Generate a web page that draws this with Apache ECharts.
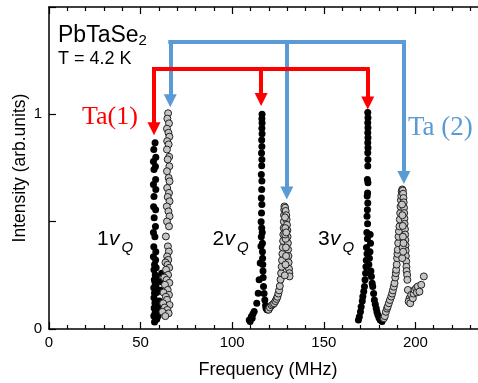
<!DOCTYPE html>
<html><head><meta charset="utf-8">
<script src="https://cdn.jsdelivr.net/npm/echarts@6/dist/echarts.min.js"></script>
<style>html,body{margin:0;padding:0;background:#fff}#c{width:478px;height:383px}</style>
</head><body><div id="c"></div>
<script>
// ---- data: [frequency (MHz), intensity (arb. units)] ----
const ta1Peak1 = [[57.9,.868],[57.2,.836],[58.3,.80],[57.0,.78],[58.1,.757],[57.3,.743],[58.2,.696],[57.0,.673],[58.3,.65],[57.3,.617],[57.1,.57],[58.2,.556],[57.4,.518],[58.1,.477],[57.0,.449],[57.8,.43],[57.2,.383],[58.3,.36],[57.0,.336],[58.2,.322],[57.6,.299],[58.5,.285],[57.3,.276],[58.0,.252],[57.5,.229],[58.6,.24],[57.9,.215],[57.2,.192],[58.4,.20],[57.6,.168],[58.8,.17],[57.3,.145],[58.2,.13],[57.8,.121],[59.0,.11],[57.4,.098],[58.5,.085],[57.9,.075],[57.2,.06],[58.3,.051],[57.6,.033],[58.8,.045],[59.5,.06],[59.8,.09],[60.2,.13],[60.5,.11],[60.8,.18],[61.3,.22],[61.5,.26]];
const ta1Peak2 = [[109.3,.042],[109.8,.035],[110.5,.058],[110.9,.05],[111.3,.07],[112.0,.081],[113.4,.12],[114.2,.167],[114.7,.229],[115.3,.307],[115.7,.385],[115.9,.43],[116.1,.47],[115.8,.50],[116.0,.54],[116.2,.58],[115.9,.61],[116.1,.65],[116.2,.69],[115.9,.72],[116.1,.76],[116.2,.79],[116.0,.82],[116.2,.85],[116.1,.88],[116.3,.91],[116.2,.935],[116.3,.96],[116.2,.98],[116.3,1.0],[116.4,.45],[116.5,.40],[116.5,.36],[116.6,.33],[116.7,.30],[116.8,.27],[116.9,.24],[117.1,.198],[117.4,.165],[117.8,.135],[118.2,.11],[118.5,.097],[119.0,.09],[119.6,.089]];
const ta1Peak3 = [[168.9,.042],[169.4,.057],[170.0,.08],[170.4,.104],[171.0,.13],[171.3,.151],[171.8,.175],[172.2,.198],[172.5,.23],[172.8,.26],[173.0,.29],[173.2,.32],[173.6,.35],[173.3,.38],[173.8,.42],[173.5,.45],[173.9,.49],[173.6,.525],[173.8,.556],[174.0,.587],[173.7,.619],[173.9,.634],[174.1,.681],[173.8,.696],[174.0,.759],[174.1,.79],[174.0,.821],[174.1,.844],[174.0,.868],[174.1,.891],[174.0,.914],[174.1,.938],[174.0,.961],[174.1,.984],[174.0,1.008],[174.6,.30],[174.9,.33],[175.2,.36],[175.5,.40],[175.3,.44],[175.7,.27],[176.0,.245],[176.4,.213],[176.7,.198],[177.2,.165],[177.6,.135],[178.1,.115],[178.6,.097],[179.0,.08],[179.5,.066],[180.1,.052],[180.8,.042],[181.8,.035]];
const ta2Peak1 = [[65.0,1.005],[64.6,.98],[65.5,.958],[64.4,.933],[65.2,.914],[65.7,.896],[64.5,.875],[65.3,.86],[64.4,.836],[65.6,.802],[64.8,.79],[65.7,.758],[64.4,.735],[65.3,.704],[65.8,.688],[64.5,.657],[65.5,.634],[64.8,.615],[65.8,.595],[64.3,.571],[65.2,.548],[65.8,.525],[64.4,.501],[65.5,.478],[63.8,.431],[64.9,.385],[65.4,.361],[64.5,.338],[65.1,.322],[63.6,.31],[64.7,.299],[65.6,.285],[63.9,.276],[65.0,.252],[62.9,.24],[64.2,.229],[65.7,.215],[63.3,.206],[64.8,.182],[62.5,.17],[65.5,.159],[63.8,.15],[64.4,.136],[62.3,.12],[65.8,.112],[63.1,.1],[64.6,.089],[65.3,.073],[61.9,.08],[63.5,.06]];
const ta2Peak2 = [[119.9,.09],[120.6,.1],[121.5,.11],[122.3,.115],[122.9,.12],[123.6,.13],[124.2,.14],[124.7,.15],[125.2,.165],[125.6,.18],[126.0,.2],[126.4,.23],[126.7,.26],[127.0,.29],[127.2,.32],[127.4,.35],[127.6,.38],[127.8,.41],[127.9,.44],[128.1,.47],[128.2,.50],[128.3,.53],[128.4,.555],[128.5,.571],[128.9,.565],[129.2,.55],[129.5,.53],[129.7,.51],[129.9,.485],[130.1,.46],[130.2,.43],[130.4,.40],[130.5,.37],[130.7,.34],[130.8,.31],[131.0,.28],[131.2,.26],[131.3,.245],[128.8,.52],[129.0,.47],[129.2,.42],[129.3,.38],[129.4,.34],[129.1,.30],[128.7,.25],[128.9,.44],[129.5,.45]];
const ta2Peak3 = [[182.8,.05],[183.3,.06],[183.9,.08],[184.5,.095],[184.9,.104],[185.5,.12],[186.1,.135],[186.8,.151],[187.3,.165],[187.7,.18],[188.2,.197],[188.6,.213],[189.0,.24],[189.3,.26],[189.5,.276],[189.8,.30],[190.0,.33],[190.2,.35],[190.4,.369],[190.6,.40],[190.8,.43],[191.0,.455],[191.3,.478],[191.5,.51],[191.7,.54],[191.9,.57],[192.1,.60],[192.3,.62],[192.5,.64],[192.8,.65],[193.1,.645],[193.3,.63],[193.5,.61],[193.6,.59],[193.8,.565],[193.9,.54],[194.0,.515],[194.1,.49],[194.3,.465],[194.4,.44],[194.5,.415],[194.6,.39],[194.7,.365],[194.8,.34],[195.0,.315],[195.1,.29],[195.2,.27],[195.5,.252],[195.6,.229],[195.9,.182],[196.8,.143],[196.3,.128],[192.7,.58],[192.9,.53],[193.1,.48],[193.2,.43],[193.0,.38],[192.8,.33],[193.3,.36],[193.5,.40]];
const ta2Tail = [[197.2,.12],[197.7,.159],[198.6,.143],[199.0,.165],[199.5,.182],[200.4,.19],[200.8,.17],[201.3,.198],[202.2,.174],[203.2,.206],[204.6,.245]];

// arrows: frequency of each line, intensity at arrow end, level of the connecting bar
const ta1ArrowFreq = [57.3, 115.8, 174.0];
const ta1ArrowEnd  = [0.933, 1.069, 1.053];
const ta1BarLevel  = 1.212;
const ta2ArrowFreq = [66.2, 129.8, 193.7];
const ta2ArrowEnd  = [1.063, 0.634, 0.706];
const ta2BarLevel  = 1.340;

const xTickLabels = [0, 50, 100, 150, 200];
const yTickLabels = [0, 1];

const RED = '#ff0000', BLUE = '#5b9bd5';
const SANS = '"Liberation Sans", Arial, sans-serif';
const SERIF = '"Liberation Serif", "Times New Roman", serif';

function arrowSeries(freqs, ends, level, color) {
  return [{
    type: 'lines', coordinateSystem: 'cartesian2d', silent: true,
    symbol: 'none',
    lineStyle: {color, width: 4, opacity: 1, cap: 'square'},
    data: [{coords: [[freqs[0], level], [freqs[freqs.length - 1], level]]}]
  }, {
    type: 'lines', coordinateSystem: 'cartesian2d', silent: true,
    symbol: ['none', 'triangle'], symbolSize: [12, 13],
    lineStyle: {color, width: 4, opacity: 1},
    itemStyle: {color},
    data: freqs.map((f, i) => ({coords: [[f, level], [f, ends[i]]]}))
  }];
}

const axisLine = {show: true, onZero: false, lineStyle: {color: '#000', width: 1.5}};
const tickStyle = {color: '#000', width: 1.2};

const chart = echarts.init(document.getElementById('c'), null, {renderer: 'canvas'});

function txt(x, y, text, size, opts) {
  return {type: 'text', x, y, silent: true, style: Object.assign({
    text, fontSize: size, fontFamily: SANS, fill: '#000', verticalAlign: 'top'
  }, opts || {})};
}
const graphics = [
  txt(58, 24, '{a|PbTaSe}{b|2}', 23, {rich: {
    a: {fontSize: 23, fontFamily: SANS, lineHeight: 24},
    b: {fontSize: 15, fontFamily: SANS, lineHeight: 8, verticalAlign: 'bottom'}
  }}),
  txt(58, 50.5, 'T = 4.2 K', 18),
  txt(82, 104, 'Ta(1)', 26, {fontFamily: SERIF, fill: RED}),
  txt(408, 114.5, 'Ta (2)', 27, {fontFamily: SERIF, fill: BLUE})
];
[['1', 97], ['2', 212.5], ['3', 318]].forEach(([n, x0]) => {
  graphics.push(txt(x0, 228.8, n, 21));
  graphics.push(txt(x0 + 12, 228.8, 'v', 21, {fontStyle: 'italic'}));
  graphics.push(txt(x0 + 24.5, 240.5, 'Q', 15, {fontStyle: 'italic'}));
});

chart.setOption({
  animation: false,
  backgroundColor: '#fff',
  grid: {left: 49, right: -29, top: 7, bottom: 54, containLabel: false, outerBoundsMode: 'none'},
  xAxis: [{
    type: 'value', position: 'bottom', min: 0, max: 250, interval: 50,
    axisLine, axisTick: {show: true, inside: true, length: 7, lineStyle: tickStyle},
    minorTick: {show: true, splitNumber: 5, length: 4, lineStyle: tickStyle},
    splitLine: {show: false}, minorSplitLine: {show: false},
    axisLabel: {margin: 6, fontSize: 15, fontFamily: SANS, color: '#000',
      formatter: v => xTickLabels.includes(v) ? String(v) : ''},
    name: 'Frequency (MHz)', nameLocation: 'middle', nameGap: 32, nameMoveOverlap: false,
    nameTextStyle: {fontSize: 18, fontFamily: SANS, color: '#000', padding: [0, 20, 0, 0]}
  }, {
    type: 'value', position: 'top', min: 0, max: 250, interval: 50,
    axisLine, axisTick: {show: true, inside: true, length: 7, lineStyle: tickStyle},
    minorTick: {show: true, splitNumber: 5, length: 4, lineStyle: tickStyle},
    splitLine: {show: false}, axisLabel: {show: false}
  }],
  yAxis: [{
    type: 'value', min: 0, max: 1.5, interval: 0.5,
    axisLine, axisTick: {show: true, inside: true, length: 7, lineStyle: tickStyle},
    splitLine: {show: false},
    axisLabel: {margin: 7, fontSize: 15, fontFamily: SANS, color: '#000',
      formatter: v => yTickLabels.includes(v) ? String(v) : ''},
    name: 'Intensity (arb.units)', nameLocation: 'middle', nameGap: 20, nameMoveOverlap: false,
    nameTextStyle: {fontSize: 17.5, fontFamily: SANS, color: '#000'}
  }],
  series: [
    {type: 'scatter', name: 'Ta(1)', symbolSize: 7, silent: true,
     itemStyle: {color: '#000', opacity: 1},
     data: [].concat(ta1Peak1, ta1Peak2, ta1Peak3)},
    {type: 'scatter', name: 'Ta(2)', symbolSize: 7, silent: true,
     itemStyle: {color: '#c4c4c4', borderColor: '#222', borderWidth: 1, opacity: 1},
     data: [].concat(ta2Peak1, ta2Peak2, ta2Peak3, ta2Tail)},
    ...arrowSeries(ta2ArrowFreq, ta2ArrowEnd, ta2BarLevel, BLUE),
    ...arrowSeries(ta1ArrowFreq, ta1ArrowEnd, ta1BarLevel, RED)
  ],
  graphic: graphics
});
</script></body></html>
